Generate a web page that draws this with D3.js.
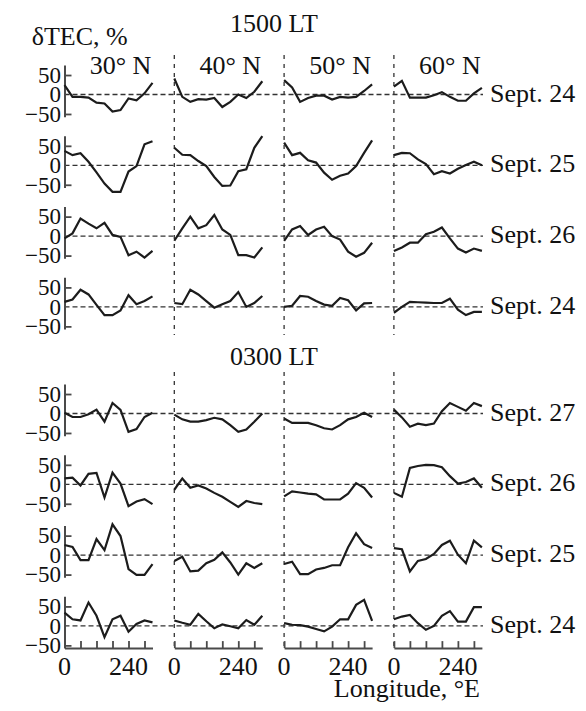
<!DOCTYPE html>
<html><head><meta charset="utf-8">
<script src="https://cdn.jsdelivr.net/npm/d3@7"></script>
<style>body{margin:0;background:#fff}</style>
</head><body>
<svg id="chart" width="586" height="711"></svg>
<script>
// ---- data ----
const longitudes = [0,30,60,90,120,150,180,210,240,270,300,330];
const latitudes = ["30° N","40° N","50° N","60° N"];
const groupTitles = ["1500 LT","0300 LT"];
const rowLabels = ["Sept. 24","Sept. 25","Sept. 26","Sept. 24","Sept. 27","Sept. 26","Sept. 25","Sept. 24"];
const yTickValues = [50,0,-50];
const yTickLabels = ["50","0","\u221250"];
const xTickValues = [0,60,120,180,240,300];
const xLabelValues = [0,240];

// δTEC (%) per row, one list per latitude column (30,40,50,60 N)
const lt15_sep24 = [
  [24,-6,-6,-8,-21,-23,-44,-40,-10,-15,3,30],
  [41,-6,-19,-12,-13,-9,-32,-19,0,-9,7,34],
  [37,18,-19,-9,-3,-3,-13,-6,-8,-6,9,26],
  [20,35,-8,-8,-8,-2,6,-6,-16,-16,3,17]
];
const lt15_sep25 = [
  [37,26,31,9,-18,-47,-68,-68,-16,-2,54,62],
  [45,27,26,11,-2,-30,-53,-52,-15,-10,45,75],
  [58,26,32,13,7,-19,-37,-27,-21,-2,32,64],
  [26,32,31,15,3,-23,-15,-21,-9,1,9,0]
];
const lt15_sep26 = [
  [-6,7,45,32,20,34,3,-2,-49,-40,-55,-38],
  [-12,20,50,20,28,54,17,3,-49,-49,-55,-29],
  [-12,17,26,3,17,24,0,-9,-40,-53,-43,-17],
  [-38,-29,-17,-17,5,11,22,-6,-32,-42,-32,-38]
];
const lt15_sep24b = [
  [13,19,44,32,5,-21,-21,-9,30,7,15,27],
  [10,7,44,32,15,-2,7,15,38,0,10,28],
  [0,3,28,26,15,6,3,23,17,-9,9,10],
  [-15,0,13,12,11,10,10,21,-7,-21,-13,-13]
];
const lt03_sep27 = [
  [2,-9,-9,-2,10,-21,27,9,-47,-40,-9,2],
  [-3,-15,-21,-21,-17,-11,-15,-30,-47,-41,-21,0],
  [-13,-24,-24,-24,-30,-38,-41,-30,-15,-9,2,-9],
  [10,-10,-34,-26,-30,-26,6,27,17,7,27,19]
];
const lt03_sep26 = [
  [15,17,-3,27,29,-34,30,2,-56,-44,-38,-51],
  [-14,15,-9,-3,-11,-22,-32,-45,-58,-43,-48,-51],
  [-31,-18,-21,-24,-26,-39,-39,-39,-24,3,-9,-34],
  [-22,-32,42,47,50,49,44,21,2,6,15,-9]
];
const lt03_sep25 = [
  [26,21,-13,-13,41,13,79,49,-36,-51,-51,-23],
  [-15,-4,-42,-40,-21,-12,7,-19,-50,-21,-33,-21],
  [-23,-17,-49,-49,-37,-33,-26,-26,20,56,28,18],
  [18,15,-42,-15,-10,3,26,37,1,-21,37,20]
];
const lt03_sep24 = [
  [34,17,14,60,26,-29,17,26,-15,5,14,9],
  [14,8,3,31,12,-6,4,-1,-6,15,3,26],
  [7,3,2,-2,-8,-14,-2,17,17,54,67,13],
  [17,24,28,7,-10,0,26,38,11,11,48,48]
];
const rowsData = [lt15_sep24, lt15_sep25, lt15_sep26, lt15_sep24b,
                  lt03_sep27, lt03_sep26, lt03_sep25, lt03_sep24];

// ---- layout ----
const FONT = '"Liberation Serif"';
const svg = d3.select("#chart");
const colX0 = 64.5, colStep = 109.8;
const rowZero = [94.5,165.3,236.1,306.9,413.5,484.3,555.1,625.9];
const x = d3.scaleLinear().domain([0,330]).range([0,88]);
const y = d3.scaleLinear().domain([-57,76]).range([22.2,-29.6]);
const ink = "#1c1c1c", axisInk = "#4a4a4a", dashInk = "#333";

function txt(sel, size){
  return sel.append("text").style("font-family",FONT).attr("font-size",size).attr("fill","#111");
}

// vertical dashed separators
const groupSpans = [[55,335],[372,648]];
groupSpans.forEach(([a,b])=>{
  for(let c=1;c<4;c++){
    svg.append("line").attr("x1",colX0+c*colStep).attr("x2",colX0+c*colStep)
      .attr("y1",a).attr("y2",b).attr("stroke",dashInk).attr("stroke-width",1.3)
      .attr("stroke-dasharray","4,5");
  }
});

const line = d3.line().x((d,i)=>x(longitudes[i])).y(d=>y(d));

rowsData.forEach((row,r)=>{
  const g = svg.append("g").attr("transform",`translate(0,${rowZero[r]})`);
  g.append("line").attr("x1",colX0).attr("x2",483).attr("y1",y(0)).attr("y2",y(0))
    .attr("stroke",dashInk).attr("stroke-width",1.3).attr("stroke-dasharray","5,3");
  const ax = g.append("g").attr("transform",`translate(${colX0},0)`)
    .call(d3.axisRight(y).tickValues([50,-50]).tickSize(7).tickSizeOuter(0).tickFormat(""));
  ax.select(".domain").attr("stroke",axisInk).attr("stroke-width",2);
  ax.selectAll(".tick line").attr("stroke",axisInk).attr("stroke-width",1.8);
  yTickValues.forEach((v,i)=>{
    txt(g,23).attr("x",61).attr("y",y(v)).attr("dy","0.34em")
      .attr("text-anchor","end").text(yTickLabels[i]);
  });
  row.forEach((vals,c)=>{
    const pg = g.append("g").attr("transform",`translate(${colX0+c*colStep},0)`);
    pg.append("path").datum(vals).attr("d",line).attr("fill","none")
      .attr("stroke",ink).attr("stroke-width",2.2).attr("stroke-linejoin","miter");
    if(r===rowsData.length-1){
      const xa = pg.append("g").attr("transform",`translate(0,${y(-57)})`)
        .call(d3.axisTop(x).tickValues(xTickValues).tickSize(7).tickSizeOuter(0).tickFormat(""));
      xa.select(".domain").attr("stroke",axisInk).attr("stroke-width",2);
      xa.selectAll(".tick line").attr("stroke",axisInk).attr("stroke-width",1.8);
      xLabelValues.forEach(v=>{
        txt(pg,26).attr("x",x(v)).attr("y",675-rowZero[r])
          .attr("text-anchor","middle").text(v);
      });
    }
  });
  txt(svg,26).attr("x",490).attr("y",rowZero[r]+7).text(rowLabels[r]);
});

latitudes.forEach((t,c)=>{
  txt(svg,26).attr("x",colX0+c*colStep+56).attr("y",74)
    .attr("text-anchor","middle").text(t);
});
txt(svg,26).attr("x",274).attr("y",31.5).attr("text-anchor","middle").text(groupTitles[0]);
txt(svg,26).attr("x",274).attr("y",365).attr("text-anchor","middle").text(groupTitles[1]);
txt(svg,26).attr("x",31.7).attr("y",45).text("δTEC, %");
txt(svg,26).attr("x",480).attr("y",697).attr("text-anchor","end").text("Longitude, °E");
</script>
</body></html>
